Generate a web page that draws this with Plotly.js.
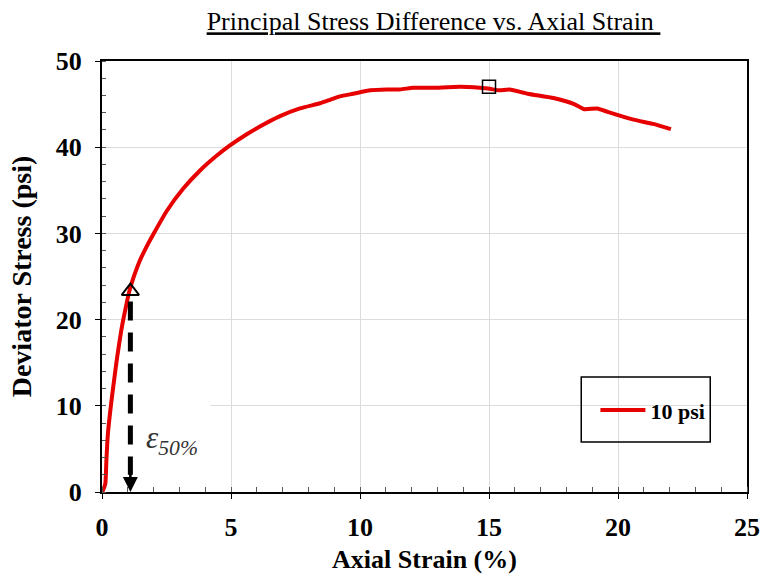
<!DOCTYPE html>
<html>
<head>
<meta charset="utf-8">
<script src="https://cdn.plot.ly/plotly-3.0.1.min.js"></script>
<style>html,body{margin:0;padding:0;background:#fff;}#chart{width:760px;height:574px;}</style>
</head>
<body>
<div id="chart"></div>
<script>
const strain = [0, 0.04, 0.13, 0.17, 0.23, 0.34, 0.47, 0.59, 0.75, 0.9, 1.07, 1.27, 1.46, 1.7, 1.99, 2.51, 3.15, 3.8, 4.44, 4.96, 5.61, 6.12, 6.9, 7.67, 8.45, 8.84, 9.22, 9.73, 10.4, 11.03, 11.55, 12.06, 12.8, 13.9, 14.96, 15.4, 15.8, 16.5, 17.5, 18.3, 18.7, 19.2, 19.6, 20.6, 21.36, 22.05];
const stress = [0, 0.2, 1.0, 3.7, 6.8, 9.9, 13.0, 15.7, 18.8, 21.1, 23.4, 25.3, 26.8, 28.3, 29.9, 32.6, 35.2, 37.3, 39.0, 40.2, 41.5, 42.4, 43.6, 44.5, 45.1, 45.5, 45.9, 46.2, 46.6, 46.7, 46.7, 46.9, 46.9, 47.0, 46.8, 46.6, 46.7, 46.2, 45.7, 45.0, 44.4, 44.5, 44.1, 43.2, 42.7, 42.1];
const seriesName = "10 psi";
const eps50 = [1.1];
const half = [23.3];
const peakStrain = [15];
const peakStress = [47];

const serif = "Liberation Serif, Times New Roman, serif";
const traces = [
  {x: strain, y: stress, mode: "lines", name: seriesName,
   line: {color: "#e60000", width: 4, shape: "spline", smoothing: 0.5}},
  {x: eps50, y: half, mode: "markers", showlegend: false,
   marker: {symbol: "triangle-up-open", size: 15, color: "#000", line: {width: 2, color: "#000"}}},
  {x: peakStrain, y: peakStress, mode: "markers", showlegend: false,
   marker: {symbol: "square-open", size: 13, color: "#000", line: {width: 1.5, color: "#000"}}}
];

const layout = {
  width: 760, height: 574,
  margin: {l: 102, r: 13, t: 61, b: 82},
  paper_bgcolor: "#fff", plot_bgcolor: "#fff",
  font: {family: serif, color: "#000"},
  title: {text: "<u>Principal Stress Difference vs. Axial Strain </u>",
          font: {family: serif, size: 26, color: "#000"},
          xref: "paper", x: 0.514, xanchor: "center",
          yref: "container", y: 0.963, yanchor: "middle"},
  xaxis: {range: [0, 25], dtick: 5, tick0: 0,
          showline: true, linecolor: "#000", linewidth: 2, mirror: true,
          ticks: "outside", ticklen: 5, tickcolor: "#000", tickwidth: 1,
          showgrid: true, gridcolor: "#dcdcdc", gridwidth: 1, zeroline: false,
          minor: {dtick: 1, ticks: "inside", ticklen: 5, tickcolor: "#555", showgrid: false},
          tickfont: {family: serif, size: 26, color: "#000", weight: "bold"},
          ticklabelstandoff: 6,
          title: {text: "<b>Axial Strain (%)</b>", font: {family: serif, size: 26, color: "#000"}, standoff: 9}},
  yaxis: {range: [0, 50], dtick: 10, tick0: 0,
          showline: true, linecolor: "#000", linewidth: 2, mirror: true,
          ticks: "outside", ticklen: 5, tickcolor: "#000", tickwidth: 1,
          showgrid: true, gridcolor: "#dcdcdc", gridwidth: 1, zeroline: false,
          minor: {dtick: 2, ticks: "inside", ticklen: 4, tickcolor: "#555", showgrid: false},
          tickfont: {family: serif, size: 26, color: "#000", weight: "bold"},
          ticklabelstandoff: 8,
          title: {text: "<b>Deviator Stress (psi)</b>", font: {family: serif, size: 28, color: "#000"}, standoff: 16}},
  showlegend: true,
  legend: {x: 0.765, y: 0.19, xanchor: "left", yanchor: "middle", itemwidth: 45,
           bgcolor: "rgba(0,0,0,0)", borderwidth: 0,
           font: {family: serif, size: 22, color: "#000", weight: "bold"}},
  shapes: [
    {type: "rect", xref: "x", yref: "y", x0: 0.05, x1: 4.2, y0: 0.15, y1: 17.5,
     fillcolor: "#fff", line: {width: 0}, layer: "between"},
    {type: "line", xref: "x", yref: "y", x0: eps50[0], x1: eps50[0], y0: half[0] - 1.2, y1: 2.0,
     line: {color: "#000", width: 5, dash: "19px,12px"}},
    {type: "rect", xref: "paper", yref: "paper", x0: 0.743, x1: 0.943, y0: 0.116, y1: 0.267,
     fillcolor: "rgba(0,0,0,0)", line: {color: "#000", width: 1.5}}
  ],
  annotations: [
    {x: eps50[0], y: 0, xref: "x", yref: "y", ax: eps50[0], ay: 3.2, axref: "x", ayref: "y",
     text: "", showarrow: true, arrowhead: 2, arrowsize: 1.15, arrowwidth: 2.6, arrowcolor: "#000"},
    {x: 2.7, y: 6.0, xref: "x", yref: "y", showarrow: false,
     text: "<i>ε<sub>50%</sub></i>", font: {family: serif, size: 31, color: "#333"}}
  ]
};

Plotly.newPlot("chart", traces, layout, {displayModeBar: false, staticPlot: true});
</script>
</body>
</html>
